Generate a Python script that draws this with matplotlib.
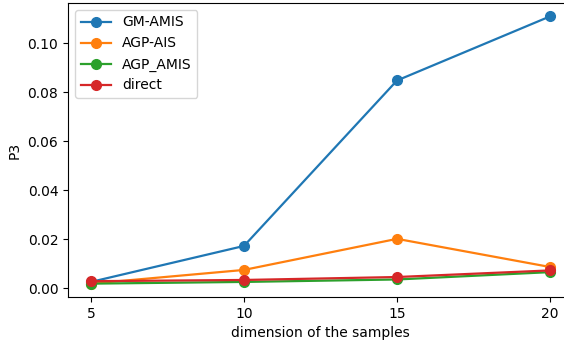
import numpy as np
import matplotlib.pyplot as plt

# 数据
dims = [5, 10, 15, 20]
gm_amis = [0.0025, 0.0172, 0.0848, 0.1110]
agp_ais = [0.0018, 0.0074, 0.0201, 0.0086]
agp_amis = [0.0018, 0.0025, 0.0035, 0.0065]
direct = [0.0028, 0.0033, 0.0045, 0.0072]

plt.rcParams['font.size'] = 10

fig = plt.figure(figsize=(5.64, 3.5), dpi=100)
# 右边框在图片之外（原图被裁切）
ax = fig.add_axes([68 / 564, 53 / 350, 505 / 564, 294 / 350])

ax.plot(dims, gm_amis, marker='o', markersize=7, linewidth=1.6, label='GM-AMIS')
ax.plot(dims, agp_ais, marker='o', markersize=7, linewidth=1.6, label='AGP-AIS')
ax.plot(dims, agp_amis, marker='o', markersize=7, linewidth=1.6, label='AGP_AMIS')
ax.plot(dims, direct, marker='o', markersize=7, linewidth=1.6, label='direct')

ax.set_xticks(dims)
ax.set_xlabel('dimension of the samples')
ax.set_ylabel('P3')
ax.legend(loc='upper left', handlelength=2.2)

plt.savefig('out.png', dpi=100)
